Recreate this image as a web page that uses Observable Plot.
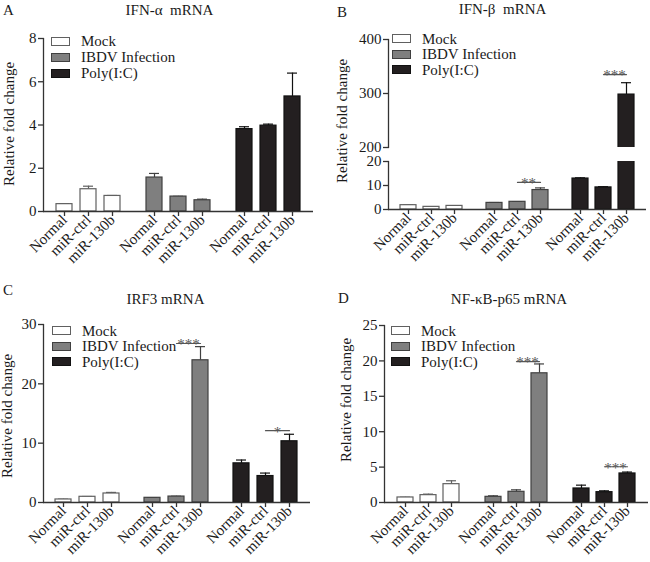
<!DOCTYPE html>
<html><head><meta charset="utf-8">
<script src="https://cdn.jsdelivr.net/npm/d3@7"></script>
<script src="https://cdn.jsdelivr.net/npm/@observablehq/plot@0.6"></script>
<style>
body{margin:0;background:#fff;}
#root{position:relative;width:650px;height:562px;overflow:hidden;font-family:'Liberation Serif',serif;color:#1a1a1a;background:#fff;}
.t{position:absolute;font-size:15px;line-height:18px;white-space:pre;}
.ylab{position:absolute;font-size:15px;line-height:18px;white-space:pre;width:170px;text-align:center;transform:rotate(-90deg);}
.leg{position:absolute;font-size:15px;}
.row{display:flex;align-items:center;height:16px;line-height:16px;white-space:pre;}
.sw{width:19px;height:9px;box-sizing:border-box;border:1px solid;margin-right:11px;}
.plotbox{position:absolute;}
</style></head><body><div id="root"></div>
<script>
// ---- data ----
const groups = ["Mock", "IBDV Infection", "Poly(I:C)"];
const conditions = ["Normal", "miR-ctrl", "miR-130b"];
const fills = ["#ffffff", "#7f7f7f", "#231f20"];
const strokes = ["#606060", "#404040", "#111111"];

const ifnA    = [0.34, 1.03, 0.72, 1.57, 0.69, 0.52, 3.81, 3.97, 5.32];
const ifnASd  = [0.02, 0.14, 0.02, 0.19, 0.01, 0.05, 0.11, 0.07, 1.08];
const ifnB    = [1.8, 1.1, 1.5, 2.75, 3.2, 8.1, 12.9, 9.2, 298];
const ifnBSd  = [0.1, 0.05, 0.05, 0.15, 0.1, 0.9, 0.3, 0.3, 22];
const irf3    = [0.51, 0.96, 1.52, 0.79, 1.0, 23.97, 6.6, 4.46, 10.32];
const irf3Sd  = [0.05, 0.05, 0.18, 0.03, 0.05, 2.3, 0.56, 0.5, 1.18];
const p65     = [0.71, 1.04, 2.59, 0.80, 1.51, 18.25, 1.98, 1.46, 4.1];
const p65Sd   = [0.03, 0.14, 0.48, 0.14, 0.28, 1.32, 0.47, 0.19, 0.2];

const ticksA = [0, 2, 4, 6, 8];
const ticksBUpper = [200, 300, 400];
const ticksBLower = [0, 10, 20];
const ticksC = [0, 10, 20, 30];
const ticksD = [0, 5, 10, 15, 20, 25];

const sigA = [];
const sigB = [
  {group: "IBDV Infection", from: "miR-ctrl", to: "miR-130b", y: 11.3, label: "**"},
  {group: "Poly(I:C)", from: "miR-ctrl", to: "miR-130b", y: 335, label: "***"}
];
const sigC = [
  {group: "IBDV Infection", from: "miR-ctrl", to: "miR-130b", y: 26.8, label: "***"},
  {group: "Poly(I:C)", from: "miR-ctrl", to: "miR-130b", y: 12.1, label: "*"}
];
const sigD = [
  {group: "IBDV Infection", from: "miR-ctrl", to: "miR-130b", y: 19.9, label: "***"},
  {group: "Poly(I:C)", from: "miR-ctrl", to: "miR-130b", y: 5.05, label: "***"}
];

const titles = ["IFN-\u03b1  mRNA", "IFN-\u03b2  mRNA", "IRF3 mRNA", "NF-\u03baB-p65 mRNA"];
const letters = ["A", "B", "C", "D"];
const yLabel = "Relative fold change";

// ---- drawing ----
const root = document.getElementById("root");
const FONT = "'Liberation Serif', 'Times New Roman', serif";

function panel(o) {
  const rows = [];
  groups.forEach((g, gi) => conditions.forEach((c, ci) => {
    const i = gi * 3 + ci;
    rows.push({group: g, gi, cond: c, value: o.values[i], top: o.values[i] + o.sds[i]});
  }));
  const sig = o.sig.filter(s => s.y >= o.domain[0] && s.y <= o.domain[1]);
  const pts = sig.flatMap((s, k) => [
    {group: s.group, cond: s.from, y: s.y, id: k},
    {group: s.group, cond: s.to, y: s.y, id: k}
  ]);
  const marks = [];
  groups.forEach((g, gi) => {
    const d = rows.filter(r => r.gi === gi);
    marks.push(
      Plot.ruleX(d, {fx: "group", x: "cond", y1: "value", y2: "top", stroke: strokes[gi], strokeWidth: 1.2, clip: o.clip}),
      Plot.tickY(d, {fx: "group", x: "cond", y: "top", stroke: strokes[gi], strokeWidth: 1.2, insetLeft: 3, insetRight: 3, clip: o.clip}),
      Plot.barY(d, {fx: "group", x: "cond", y: "value", fill: fills[gi], stroke: strokes[gi], strokeWidth: 1.2, clip: o.clip})
    );
  });
  marks.push(Plot.frame({anchor: "left", fx: [groups[0]], stroke: "#333", strokeWidth: 1.3}));
  marks.push(Plot.axisY({ticks: o.ticks, tickSize: 5, tickPadding: 2, label: null, stroke: "#333", strokeWidth: 1.3, fontSize: 15, fontFamily: FONT}));
  if (o.xAxis) {
    marks.push(Plot.ruleY([o.domain[0]], {stroke: "#333", strokeWidth: 1.3}));
    marks.push(Plot.axisX({tickRotate: -45, tickSize: 5, tickPadding: 1, label: null, stroke: "#333", strokeWidth: 1.3, fontSize: 15, fontFamily: FONT}));
  }
  marks.push(Plot.line(pts, {fx: "group", x: "cond", y: "y", z: "id", stroke: "#555", strokeWidth: 1.2}));
  marks.push(Plot.text(sig, {fx: "group", x: "to", y: "y", text: "label", dx: -12, dy: 1, fill: "#555", fontSize: 15, fontFamily: FONT}));

  const svg = Plot.plot({
    width: o.width, height: o.height,
    marginLeft: o.mL, marginRight: o.mR, marginTop: o.mT, marginBottom: o.mB,
    fx: {domain: groups, padding: 0, axis: null, label: null},
    x: {domain: conditions, paddingInner: 0.32, paddingOuter: 0.5, label: null, axis: o.xAxis ? undefined : null},
    y: {domain: o.domain, label: null},
    style: {fontFamily: FONT, fontSize: "15px", background: "transparent", overflow: "visible", color: "#1a1a1a"},
    marks
  });
  const box = document.createElement("div");
  box.className = "plotbox";
  box.style.left = o.left + "px";
  box.style.top = o.top + "px";
  box.appendChild(svg);
  root.appendChild(box);
}

function text(cls, str, left, top, extra) {
  const d = document.createElement("div");
  d.className = cls;
  d.textContent = str;
  d.style.left = left + "px";
  d.style.top = top + "px";
  if (extra) Object.assign(d.style, extra);
  root.appendChild(d);
}

function legend(left, top, pitch) {
  const L = document.createElement("div");
  L.className = "leg";
  L.style.left = left + "px";
  L.style.top = top + "px";
  groups.forEach((g, gi) => {
    const r = document.createElement("div");
    r.className = "row";
    r.style.marginBottom = (pitch - 16) + "px";
    const s = document.createElement("div");
    s.className = "sw";
    s.style.background = fills[gi];
    s.style.borderColor = strokes[gi];
    const t = document.createElement("span");
    t.textContent = g;
    r.appendChild(s); r.appendChild(t);
    L.appendChild(r);
  });
  root.appendChild(L);
}

panel({values: ifnA, sds: ifnASd, domain: [0, 8], ticks: ticksA, sig: sigA, xAxis: true, clip: false,
  left: 0, top: 0, width: 325, height: 280, mL: 43, mR: 12, mT: 38, mB: 69});
panel({values: ifnB, sds: ifnBSd, domain: [200, 400], ticks: ticksBUpper, sig: sigB, xAxis: false, clip: true,
  left: 325, top: 0, width: 325, height: 150, mL: 62, mR: 3, mT: 39, mB: 3});
panel({values: ifnB, sds: ifnBSd, domain: [0, 20], ticks: ticksBLower, sig: sigB, xAxis: true, clip: true,
  left: 325, top: 150, width: 325, height: 130, mL: 62, mR: 3, mT: 11, mB: 71});
panel({values: irf3, sds: irf3Sd, domain: [0, 30], ticks: ticksC, sig: sigC, xAxis: true, clip: false,
  left: 0, top: 280, width: 325, height: 282, mL: 43, mR: 15, mT: 44, mB: 60});
panel({values: p65, sds: p65Sd, domain: [0, 25], ticks: ticksD, sig: sigD, xAxis: true, clip: false,
  left: 325, top: 280, width: 325, height: 282, mL: 59, mR: 2, mT: 45, mB: 60});

// titles, panel letters, y labels, legends
text("t", letters[0], 3, 1);
text("t", letters[1], 337, 3);
text("t", letters[2], 3, 281);
text("t", letters[3], 338, 289);
text("t", titles[0], 69.5, 1, {width: "200px", textAlign: "center"});
text("t", titles[1], 402.5, 0, {width: "200px", textAlign: "center"});
text("t", titles[2], 65.5, 290, {width: "200px", textAlign: "center"});
text("t", titles[3], 409, 289.5, {width: "200px", textAlign: "center"});
text("ylab", yLabel, 8.75 - 85, 123.5 - 9);
text("ylab", yLabel, 342.25 - 85, 121 - 9);
text("ylab", yLabel, 7.25 - 85, 415.5 - 9);
text("ylab", yLabel, 345.75 - 85, 400 - 9);
legend(51, 33.2, 15.9);
legend(392, 30.8, 15.5);
legend(52, 322.5, 15.7);
legend(391, 322.5, 15.7);
</script></body></html>
